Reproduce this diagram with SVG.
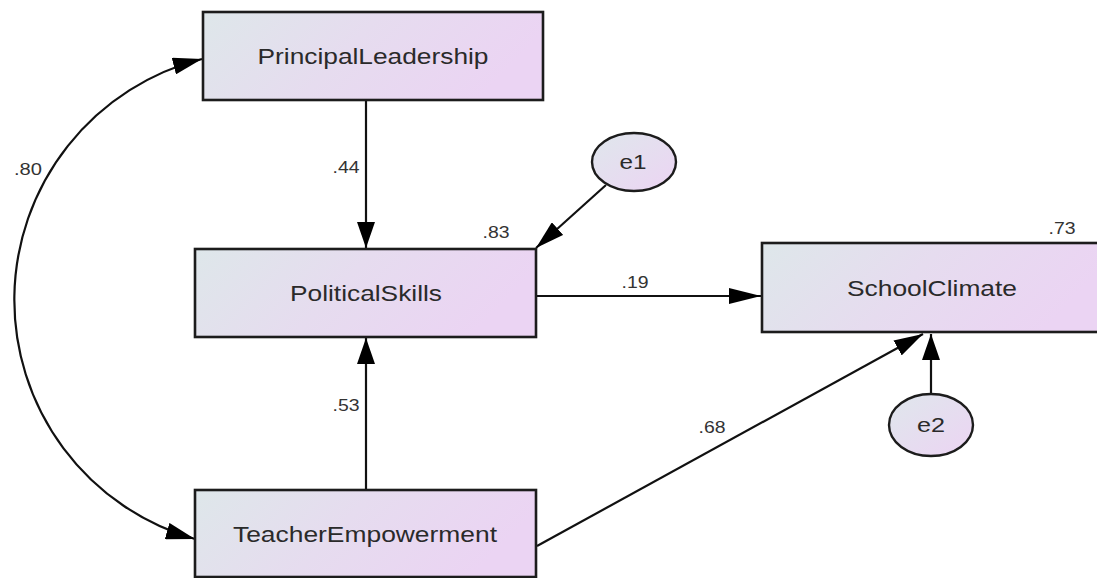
<svg xmlns="http://www.w3.org/2000/svg" width="1097" height="578" viewBox="0 0 1097 578">
<style>
.box{stroke:#1c1c1c;stroke-width:2.6;fill:url(#g)}
.ell{stroke:#1c1c1c;stroke-width:2.4;fill:url(#ge)}
.lbl{font-family:"Liberation Sans",Arial,sans-serif;font-size:22px;fill:#2a2a2a;text-anchor:middle}
.num{font-family:"Liberation Sans",Arial,sans-serif;font-size:17px;fill:#333;text-anchor:middle}
.c{stroke:#111;stroke-width:2.2;fill:none}
</style>
<defs>
<linearGradient id="g" x1="0" y1="0" x2="1" y2="0.25">
<stop offset="0" stop-color="#dee7ea"/>
<stop offset="0.5" stop-color="#e6dcef"/>
<stop offset="1" stop-color="#ebd4f3"/>
</linearGradient>
<linearGradient id="ge" x1="0" y1="0" x2="1" y2="1">
<stop offset="0" stop-color="#dfe7ec"/>
<stop offset="1" stop-color="#ecd4f3"/>
</linearGradient>
<marker id="mV" markerUnits="userSpaceOnUse" markerWidth="26" markerHeight="18" refX="26" refY="9" orient="auto-start-reverse" viewBox="0 0 26 18">
<path d="M0,0 L26,9 L0,18 z" fill="#000"/>
</marker>
<marker id="mH" markerUnits="userSpaceOnUse" markerWidth="32" markerHeight="16" refX="32" refY="8" orient="auto-start-reverse" viewBox="0 0 32 16">
<path d="M0,0 L32,8 L0,16 z" fill="#000"/>
</marker>
<marker id="mD" markerUnits="userSpaceOnUse" markerWidth="29" markerHeight="17" refX="29" refY="8.5" orient="auto-start-reverse" viewBox="0 0 29 17">
<path d="M0,0 L29,8.5 L0,17 z" fill="#000"/>
</marker>
</defs>
<g id="connectors">
<path class="c" d="M202,59 A248.5,248.5 0 0 0 195,539" marker-start="url(#mD)" marker-end="url(#mD)"/>
<line class="c" x1="366" y1="101" x2="366" y2="248" marker-end="url(#mV)"/>
<line class="c" x1="366" y1="489" x2="366" y2="338" marker-end="url(#mV)"/>
<line class="c" x1="606" y1="185" x2="536" y2="248" marker-end="url(#mD)"/>
<line class="c" x1="537" y1="296" x2="761" y2="296" marker-end="url(#mH)"/>
<line class="c" x1="537" y1="546" x2="923" y2="334" marker-end="url(#mD)"/>
<line class="c" x1="931" y1="395" x2="931" y2="334" marker-end="url(#mV)"/>
<text class="num" x="28" y="175" textLength="28" lengthAdjust="spacingAndGlyphs">.80</text>
<text class="num" x="346" y="173" textLength="27" lengthAdjust="spacingAndGlyphs">.44</text>
<text class="num" x="346" y="411" textLength="27" lengthAdjust="spacingAndGlyphs">.53</text>
<text class="num" x="635" y="288" textLength="27" lengthAdjust="spacingAndGlyphs">.19</text>
<text class="num" x="712" y="433" textLength="27" lengthAdjust="spacingAndGlyphs">.68</text>
</g>
<g id="PrincipalLeadership">
<rect class="box" x="203" y="12" width="340" height="88"/>
<text class="lbl" x="373" y="64" textLength="231" lengthAdjust="spacingAndGlyphs">PrincipalLeadership</text>
</g>
<g id="PoliticalSkills">
<rect class="box" x="195" y="249" width="341" height="88"/>
<text class="lbl" x="366" y="301" textLength="152" lengthAdjust="spacingAndGlyphs">PoliticalSkills</text>
<text class="num" x="496" y="238" textLength="27" lengthAdjust="spacingAndGlyphs">.83</text>
</g>
<g id="SchoolClimate">
<rect class="box" x="762" y="243" width="345" height="89"/>
<text class="lbl" x="932" y="296" textLength="170" lengthAdjust="spacingAndGlyphs">SchoolClimate</text>
<text class="num" x="1062" y="234" textLength="27" lengthAdjust="spacingAndGlyphs">.73</text>
</g>
<g id="TeacherEmpowerment">
<rect class="box" x="195" y="490" width="341" height="87"/>
<text class="lbl" x="365" y="542" textLength="264" lengthAdjust="spacingAndGlyphs">TeacherEmpowerment</text>
</g>
<g id="e1">
<ellipse class="ell" cx="634" cy="162" rx="42" ry="29"/>
<text class="lbl" x="633" y="169" textLength="27" lengthAdjust="spacingAndGlyphs" style="font-size:20px">e1</text>
</g>
<g id="e2">
<ellipse class="ell" cx="931" cy="425" rx="42" ry="31"/>
<text class="lbl" x="931" y="432" textLength="28" lengthAdjust="spacingAndGlyphs" style="font-size:20px">e2</text>
</g>
</svg>
